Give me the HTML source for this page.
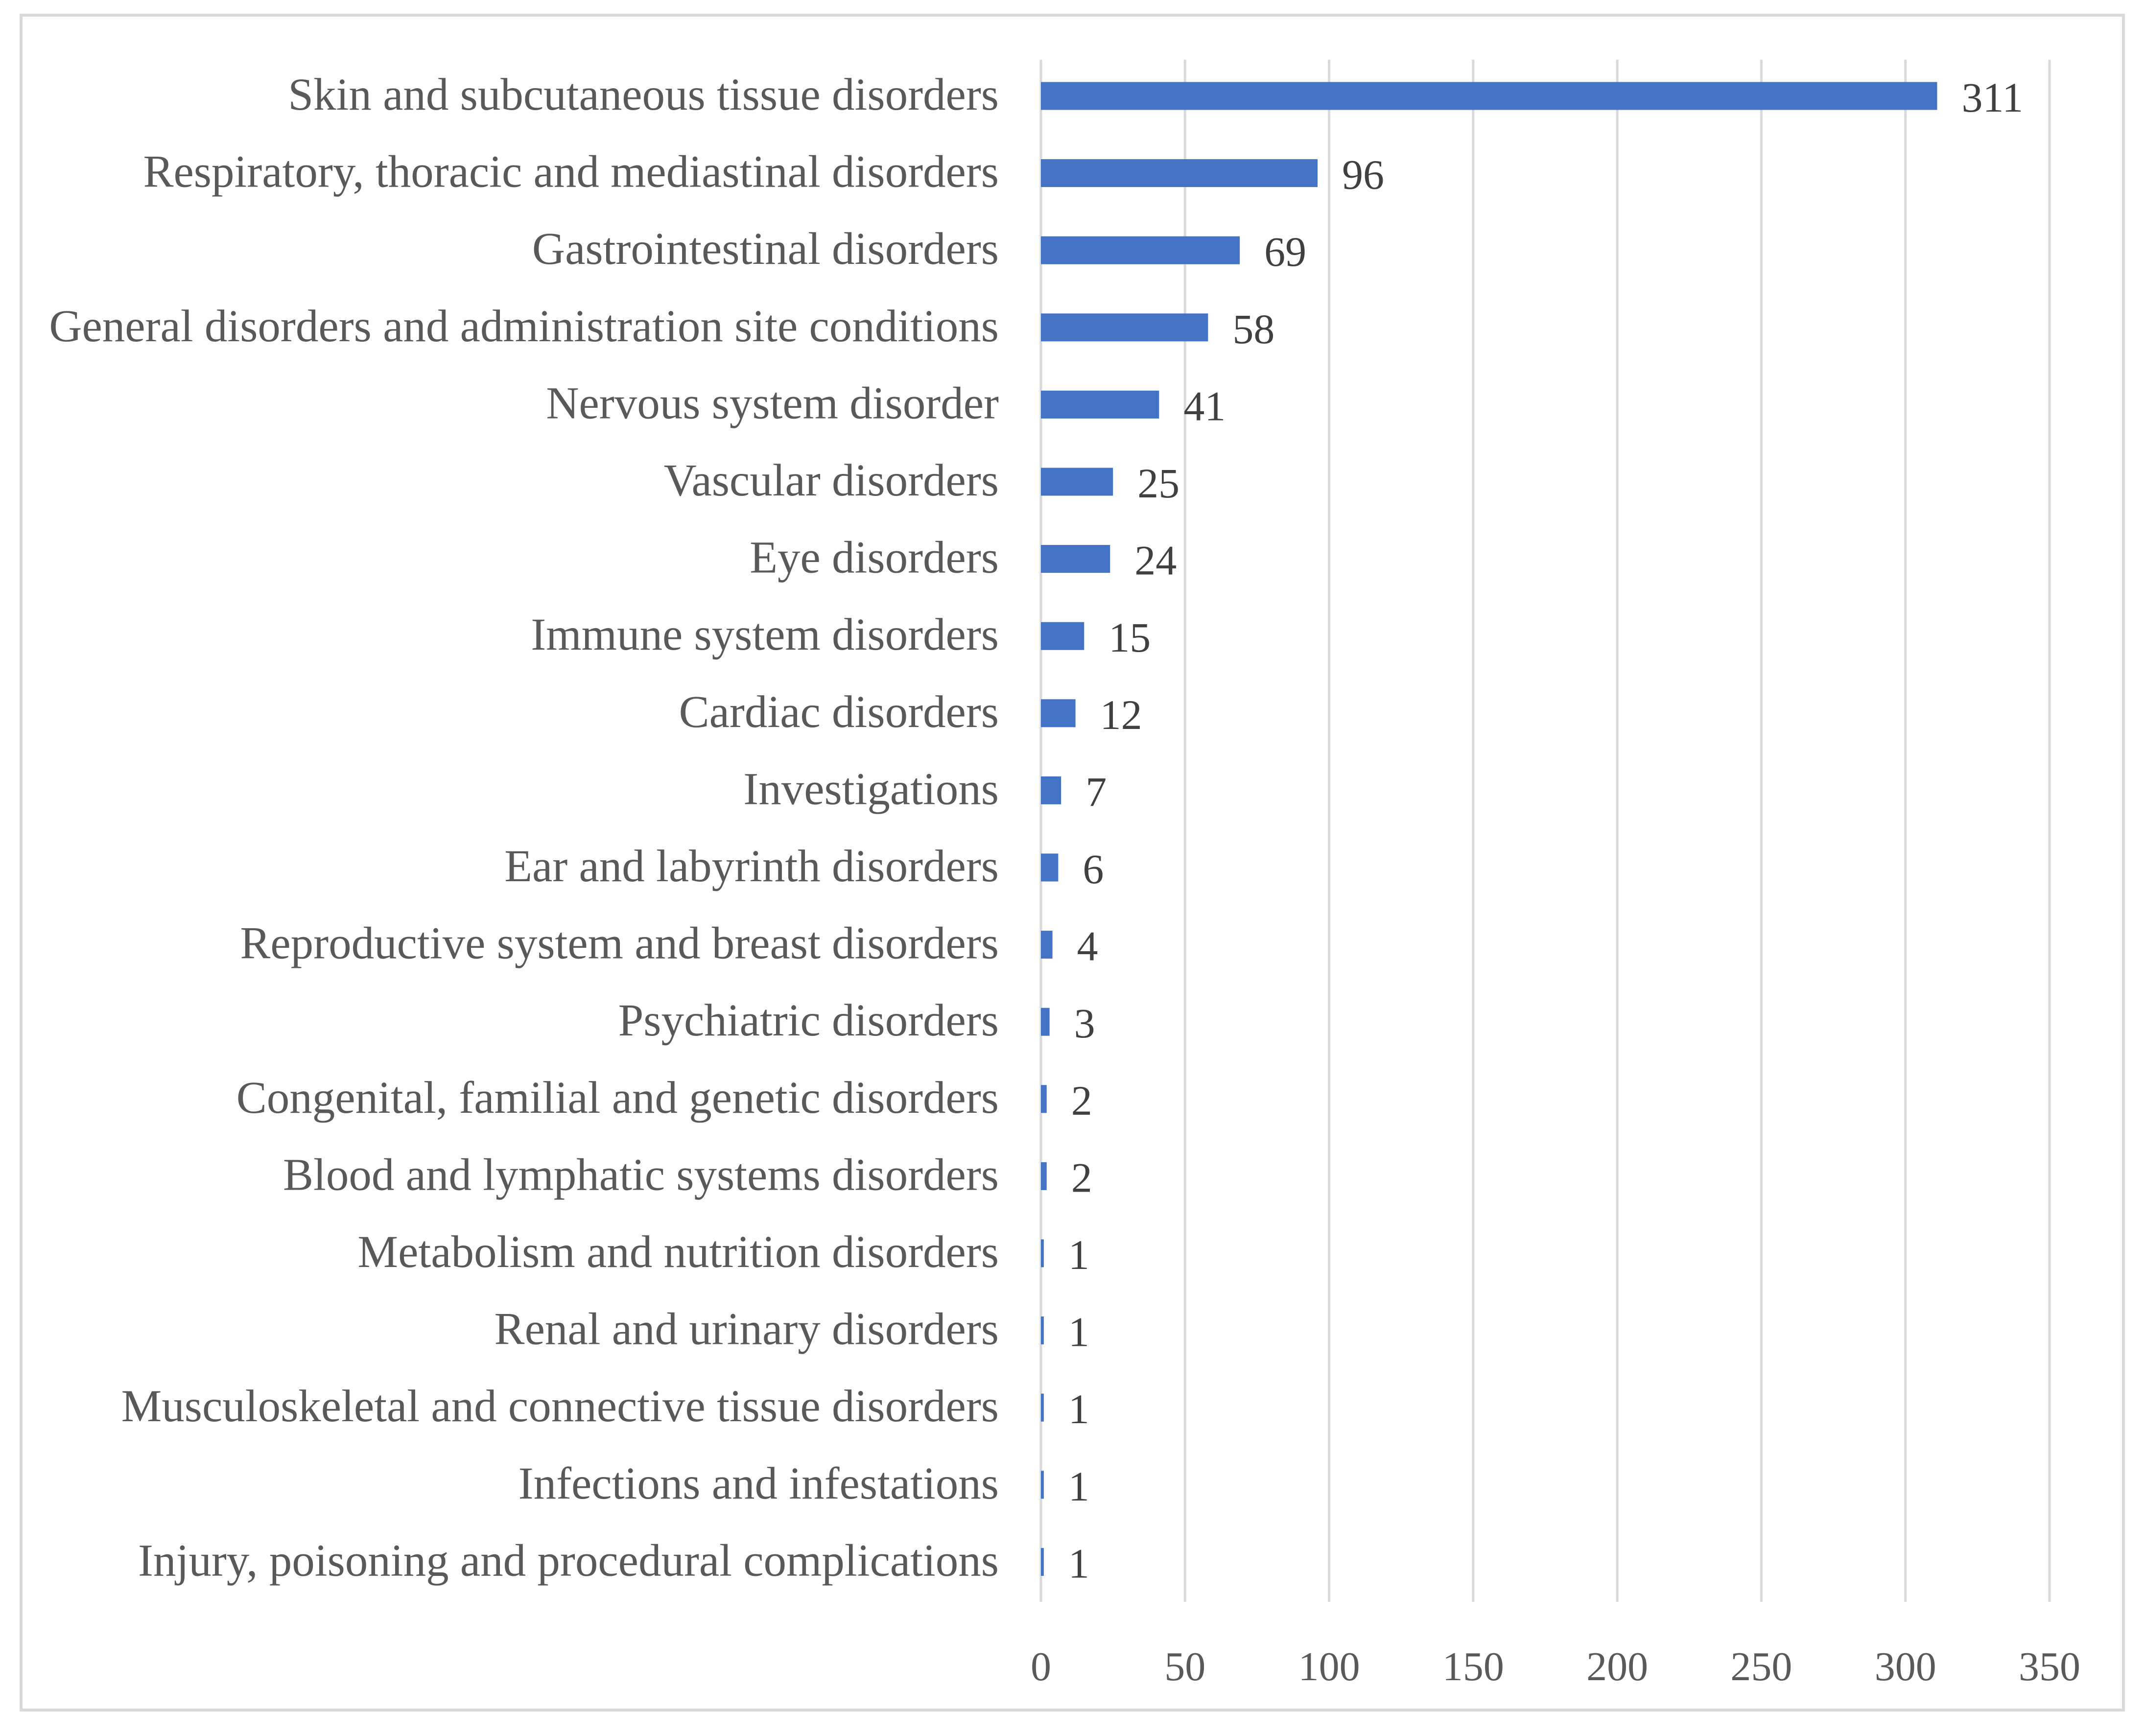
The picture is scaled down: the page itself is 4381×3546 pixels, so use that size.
<!DOCTYPE html>
<html><head><meta charset="utf-8"><style>
html,body{margin:0;padding:0;background:#fff;}
svg{display:block;font-family:"Liberation Serif",serif;}
</style></head><body>
<svg id="chart" width="4381" height="3546" viewBox="0 0 4381 3546" xmlns="http://www.w3.org/2000/svg">
<rect x="43" y="31" width="4294" height="3462" fill="#fff" stroke="#d9d9d9" stroke-width="6"/>
<g id="grid"></g><g id="bars"></g><g id="labels"></g><g id="ticks"></g>
</svg>
<script>
const categories=["Skin and subcutaneous tissue disorders","Respiratory, thoracic and mediastinal disorders","Gastrointestinal disorders","General disorders and administration site conditions","Nervous system disorder","Vascular disorders","Eye disorders","Immune system disorders","Cardiac disorders","Investigations","Ear and labyrinth disorders","Reproductive system and breast disorders","Psychiatric disorders","Congenital, familial and genetic disorders","Blood and lymphatic systems disorders","Metabolism and nutrition disorders","Renal and urinary disorders","Musculoskeletal and connective tissue disorders","Infections and infestations","Injury, poisoning and procedural complications"];
const values=[311,96,69,58,41,25,24,15,12,7,6,4,3,2,2,1,1,1,1,1];
const ticks=[0,50,100,150,200,250,300,350];
const NS="http://www.w3.org/2000/svg";
const x0=2126,x1=4186,xmax=350,yTop=122,yBot=3272,c0=196,pitch=157.6,bh=57;
const xs=v=>x0+(x1-x0)*v/xmax;
const yc=i=>c0+i*pitch;
function mk(t,a,p){const e=document.createElementNS(NS,t);for(const k in a)e.setAttribute(k,a[k]);p.appendChild(e);return e;}
const g=document.getElementById('grid'),b=document.getElementById('bars'),l=document.getElementById('labels'),tk=document.getElementById('ticks');
ticks.forEach(t=>{
 const ln=mk('line',{x1:xs(t),x2:xs(t),y1:yTop,y2:yBot,stroke:'#d9d9d9','stroke-width':5},g);
 
 
 const tx=mk('text',{x:xs(t),y:3432,'text-anchor':'middle','font-size':84,fill:'#595959'},tk);
 tx.textContent=t;
 
 
});
categories.forEach((c,i)=>{
 const y=yc(i);
 const r=mk('rect',{x:x0,y:y-bh/2,width:Math.max(xs(values[i])-x0,3),height:bh,fill:'#4472c4'},b);
 
 
 const lb=mk('text',{x:2040,y:y+28,'text-anchor':'end','font-size':93,fill:'#595959'},l);
 lb.textContent=c;
 
 
 const vl=mk('text',{x:xs(values[i])+50,y:y+32,'font-size':86,fill:'#404040'},l);
 vl.textContent=values[i];
 
 
});
</script>
</body></html>
